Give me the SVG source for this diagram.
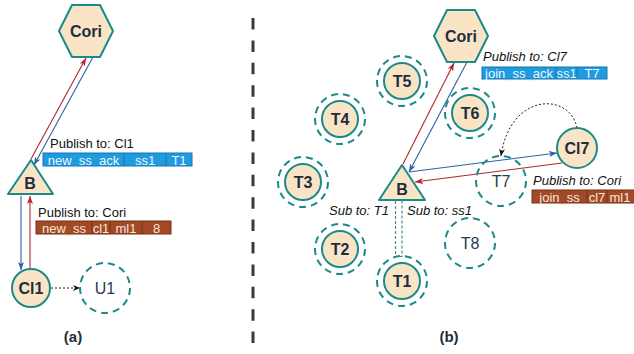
<svg xmlns="http://www.w3.org/2000/svg" width="634" height="354" viewBox="0 0 634 354">
<style>
.node{fill:#fae4c6;stroke:#1b8a8a;stroke-width:2;stroke-linejoin:round}
.ring{fill:none;stroke:#1b8a8a;stroke-width:2;stroke-dasharray:7 5}
.nl{font-family:"Liberation Sans",Arial,sans-serif;font-weight:bold;font-size:16px;fill:#1f2e3c;text-anchor:middle}
.ul{font-family:"Liberation Sans",Arial,sans-serif;font-size:16px;fill:#2a3a48;text-anchor:middle}
.lab{font-family:"Liberation Sans",Arial,sans-serif;font-size:13px;fill:#111}
.it{font-style:italic}
.bt{font-family:"Liberation Sans",Arial,sans-serif;font-size:13px;text-anchor:middle}
.blue{fill:#1f9be0;stroke:#1674b3;stroke-width:1}
.brown{fill:#a24a27;stroke:#7a2f14;stroke-width:1}
.btw{fill:#eef6fc}
.brw{fill:#f7e6da}
.red{stroke:#b3262a;stroke-width:1.1;fill:none}
.bl{stroke:#2f5fa8;stroke-width:1.1;fill:none}
.dot{stroke:#222;stroke-width:1;fill:none;stroke-dasharray:2 2}
.cap{font-family:"Liberation Sans",Arial,sans-serif;font-weight:bold;font-size:15px;fill:#1f2e3c;text-anchor:middle}
</style>
<defs>
<marker id="aRed" markerWidth="8" markerHeight="6" refX="8" refY="3" orient="auto" markerUnits="userSpaceOnUse"><path d="M0,0 L8,3 L0,6 L2,3 z" fill="#b3262a"/></marker>
<marker id="aBlue" markerWidth="8" markerHeight="6" refX="8" refY="3" orient="auto" markerUnits="userSpaceOnUse"><path d="M0,0 L8,3 L0,6 L2,3 z" fill="#2f5fa8"/></marker>
<marker id="aBlk" markerWidth="7" markerHeight="6" refX="7" refY="3" orient="auto" markerUnits="userSpaceOnUse"><path d="M0,0 L7,3 L0,6 L2,3 z" fill="#111"/></marker>
</defs>
<rect width="634" height="354" fill="#fff"/>

<line x1="253" y1="18" x2="253" y2="343" stroke="#3a3a3a" stroke-width="3" stroke-dasharray="11.5 10.9"/>

<g id="connectors">
  <line class="red" x1="31" y1="159" x2="86" y2="58" marker-end="url(#aRed)"/>
  <line class="bl" x1="93" y1="57" x2="34" y2="165" marker-end="url(#aBlue)"/>
  <line class="bl" x1="21" y1="196" x2="21" y2="270" marker-end="url(#aBlue)"/>
  <line class="red" x1="30" y1="269" x2="30" y2="196" marker-end="url(#aRed)"/>
  <line class="dot" x1="51" y1="288" x2="80" y2="288" marker-end="url(#aBlk)"/>
  <line class="red" x1="403" y1="164" x2="454" y2="63" marker-end="url(#aRed)"/>
  <line class="bl" x1="467" y1="62" x2="409" y2="172" marker-end="url(#aBlue)"/>
  <line class="bl" x1="409" y1="172" x2="557" y2="153" marker-end="url(#aBlue)"/>
  <line class="red" x1="562" y1="163" x2="415" y2="182" marker-end="url(#aRed)"/>
  <path class="dot" d="M577,128 C570,92 510,92 501,156" marker-end="url(#aBlk)"/>
  <path d="M395.5,201 L395.5,256.5 L402,256.5 L402,201" fill="none" stroke="#4f8a88" stroke-width="1.2" stroke-dasharray="3 2"/>
</g>

<g id="cori-a">
  <path class="node" d="M59,31 L72,5 L100,5 L113,31 L100,57 L72,57 Z"/>
  <text class="nl" x="86" y="37" font-size="17">Cori</text>
</g>
<g id="b-a">
  <path class="node" d="M31,160 L53,194 L8,194 Z"/>
  <text class="nl" x="30" y="189">B</text>
</g>
<g id="cl1">
  <circle class="node" cx="31" cy="288" r="19"/>
  <text class="nl" x="31" y="294">Cl1</text>
</g>
<g id="u1">
  <circle class="ring" cx="105" cy="288" r="25"/>
  <text class="ul" x="105" y="294">U1</text>
</g>
<g id="msg-a1">
  <text class="lab" x="50" y="148">Publish to: Cl1</text>
  <rect class="blue" x="43" y="153" width="149" height="13"/>
  <line x1="124" y1="153" x2="124" y2="166" stroke="#1674b3"/>
  <line x1="166" y1="153" x2="166" y2="166" stroke="#1674b3"/>
  <text class="bt btw" x="83.5" y="164.5">new_ss_ack</text>
  <text class="bt btw" x="145" y="164.5">ss1</text>
  <text class="bt btw" x="179" y="164.5">T1</text>
</g>
<g id="msg-a2">
  <text class="lab" x="38" y="217">Publish to: Cori</text>
  <rect class="brown" x="36" y="221" width="135" height="13"/>
  <line x1="92" y1="221" x2="92" y2="234" stroke="#7a2f14"/>
  <line x1="110" y1="221" x2="110" y2="234" stroke="#7a2f14"/>
  <line x1="142" y1="221" x2="142" y2="234" stroke="#7a2f14"/>
  <text class="bt brw" x="64" y="232.5">new_ss</text>
  <text class="bt brw" x="101" y="232.5">cl1</text>
  <text class="bt brw" x="126" y="232.5">ml1</text>
  <text class="bt brw" x="156.5" y="232.5">8</text>
</g>
<text class="cap" x="73" y="342">(a)</text>

<g id="cori-b">
  <path class="node" d="M434,36 L447,10 L475,10 L488,36 L475,62 L447,62 Z"/>
  <text class="nl" x="461" y="42" font-size="17">Cori</text>
</g>
<g id="b-b">
  <path class="node" d="M402,165 L425,200 L379,200 Z"/>
  <text class="nl" x="402" y="195">B</text>
</g>
<g id="cl7">
  <circle class="node" cx="577" cy="148" r="20"/>
  <text class="nl" x="577" y="154">Cl7</text>
</g>
<g id="t5">
  <circle class="ring" cx="402" cy="81" r="25"/>
  <circle class="node" cx="402" cy="81" r="18"/>
  <text class="nl" x="402" y="87">T5</text>
</g>
<g id="t4">
  <circle class="ring" cx="340" cy="119" r="25"/>
  <circle class="node" cx="340" cy="119" r="18"/>
  <text class="nl" x="340" y="125">T4</text>
</g>
<g id="t6">
  <circle class="ring" cx="470" cy="113" r="25"/>
  <circle class="node" cx="470" cy="113" r="18"/>
  <text class="nl" x="470" y="119">T6</text>
</g>
<g id="t3">
  <circle class="ring" cx="303" cy="182" r="25"/>
  <circle class="node" cx="303" cy="182" r="18"/>
  <text class="nl" x="303" y="188">T3</text>
</g>
<g id="t2">
  <circle class="ring" cx="340" cy="249" r="25"/>
  <circle class="node" cx="340" cy="249" r="18"/>
  <text class="nl" x="340" y="255">T2</text>
</g>
<g id="t1">
  <circle class="ring" cx="402" cy="281" r="25"/>
  <circle class="node" cx="402" cy="281" r="18"/>
  <text class="nl" x="402" y="287">T1</text>
</g>
<g id="t7">
  <circle class="ring" cx="501" cy="181" r="25"/>
  <text class="ul" x="501" y="187">T7</text>
</g>
<g id="t8">
  <circle class="ring" cx="470" cy="243" r="25"/>
  <text class="ul" x="470" y="249">T8</text>
</g>
<g id="msg-b1">
  <text class="lab it" x="483" y="61">Publish to: Cl7</text>
  <rect class="blue" x="482" y="67" width="125" height="12"/>
  <line x1="556" y1="67" x2="556" y2="79" stroke="#1674b3"/>
  <line x1="577" y1="67" x2="577" y2="79" stroke="#1674b3"/>
  <text class="bt btw" x="519" y="77.5">join_ss_ack</text>
  <text class="bt btw" x="566.5" y="77.5">ss1</text>
  <text class="bt btw" x="592" y="77.5">T7</text>
</g>
<g id="msg-b2">
  <text class="lab it" x="533" y="185">Publish to: Cori</text>
  <rect class="brown" x="532" y="190" width="103" height="13"/>
  <line x1="587" y1="190" x2="587" y2="203" stroke="#7a2f14"/>
  <line x1="607" y1="190" x2="607" y2="203" stroke="#7a2f14"/>
  <text class="bt brw" x="559.5" y="201.5">join_ss</text>
  <text class="bt brw" x="597" y="201.5">cl7</text>
  <text class="bt brw" x="620" y="201.5">ml1</text>
</g>
<text class="lab it" x="329" y="215">Sub to: T1</text>
<text class="lab it" x="407" y="215">Sub to: ss1</text>
<text class="cap" x="449" y="342">(b)</text>
</svg>
